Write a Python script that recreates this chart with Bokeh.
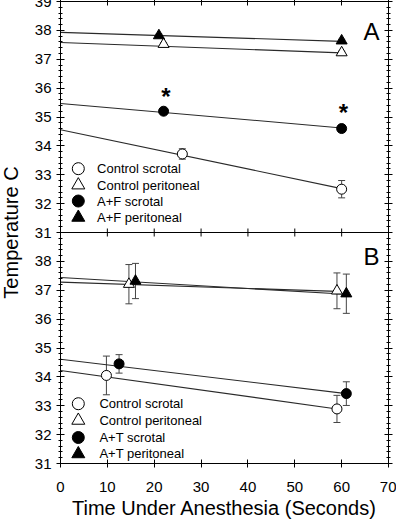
from bokeh.plotting import figure
from bokeh.models import (Range1d, LinearAxis, FixedTicker, Span, Title,
                          Whisker, TeeHead, ColumnDataSource, Label)
from bokeh.core.properties import value
from bokeh.embed import file_html
from bokeh.resources import INLINE

FONT = "Liberation Sans"

# ---------------- data ----------------
x_ticks = [0, 10, 20, 30, 40, 50, 60, 70]
temp_ticks = [31, 32, 33, 34, 35, 36, 37, 38, 39]
x_title = "Time Under Anesthesia (Seconds)"
y_title = "Temperature C"

# Panel A : Control vs A+F
a_labels = ["Control scrotal", "Control peritoneal", "A+F scrotal", "A+F peritoneal"]
a_ctrl_scr_x = [26, 60]
a_ctrl_scr_y = [33.72, 32.50]
a_ctrl_scr_err = [0.18, 0.30]
a_ctrl_per_x = [22, 60]
a_ctrl_per_y = [37.52, 37.23]
a_ctrl_per_err = [0.05, 0.05]
a_af_scr_x = [22, 60]
a_af_scr_y = [35.20, 34.60]
a_af_scr_err = [0.10, 0.12]
a_af_per_x = [21, 60]
a_af_per_y = [37.82, 37.64]
a_af_per_err = [0.05, 0.05]
# fitted lines (start, end)
a_ctrl_scr_fit_x = [0, 60]
a_ctrl_scr_fit_y = [34.56, 32.52]
a_ctrl_per_fit_x = [0, 60]
a_ctrl_per_fit_y = [37.58, 37.22]
a_af_scr_fit_x = [0, 60]
a_af_scr_fit_y = [35.47, 34.62]
a_af_per_fit_x = [0, 60]
a_af_per_fit_y = [37.93, 37.62]
a_star_x = [22.5, 60.4]
a_star_y = [35.82, 35.25]

# Panel B : Control vs A+T
b_labels = ["Control scrotal", "Control peritoneal", "A+T scrotal", "A+T peritoneal"]
b_ctrl_scr_x = [9.8, 59]
b_ctrl_scr_y = [34.05, 32.89]
b_ctrl_scr_err = [0.67, 0.47]
b_ctrl_per_x = [14.6, 59]
b_ctrl_per_y = [37.21, 36.98]
b_ctrl_per_err = [0.68, 0.62]
b_at_scr_x = [12.5, 61]
b_at_scr_y = [34.45, 33.42]
b_at_scr_err = [0.32, 0.41]
b_at_per_x = [16, 61]
b_at_per_y = [37.32, 36.88]
b_at_per_err = [0.61, 0.68]
b_ctrl_scr_fit_x = [0, 59]
b_ctrl_scr_fit_y = [34.22, 32.89]
b_ctrl_per_fit_x = [0, 59]
b_ctrl_per_fit_y = [37.28, 36.96]
b_at_scr_fit_x = [0, 61]
b_at_scr_fit_y = [34.61, 33.42]
b_at_per_fit_x = [0, 61]
b_at_per_fit_y = [37.44, 36.86]

# ---------------- layout constants ----------------
# panel A sits on top of panel B: its temperature scale is shifted by 8 degrees
PANEL_SHIFT = 8
LEG_MARKER_X = 3.8
LEG_TEXT_X_A = 7.8
LEG_TEXT_X_B = 8.3
LEG_ROWS_A = [33.21, 32.64, 32.09, 31.52]
LEG_ROWS_B = [33.07, 32.49, 31.90, 31.33]

LINE = "#2a2a2a"
ERR = "#444444"

p = figure(width=400, height=526, x_range=Range1d(x_ticks[0], x_ticks[-1]),
           y_range=Range1d(temp_ticks[0], temp_ticks[-1] + PANEL_SHIFT),
           output_backend="svg", toolbar_location=None,
           x_axis_location=None, y_axis_location=None,
           min_border_left=62, min_border_right=8, min_border_top=5, min_border_bottom=59,
           styles={"margin": "-4px"})
p.extra_y_ranges = {"A": Range1d(temp_ticks[0] - PANEL_SHIFT, temp_ticks[-1])}
p.outline_line_color = None
p.xgrid.visible = False
p.ygrid.visible = False
p.background_fill_color = "white"
p.border_fill_color = "white"

# ---- axes ----
y_pos = [t for t in temp_ticks[:-1]] + [t + PANEL_SHIFT for t in temp_ticks]
overrides = {t + PANEL_SHIFT: str(t) for t in temp_ticks}
minor = [temp_ticks[0] + 0.2 * i for i in range(int((temp_ticks[-1] + PANEL_SHIFT - temp_ticks[0]) / 0.2) + 1)]


def style_axis(ax, labels=True):
    ax.axis_line_color = "black"
    ax.major_tick_line_color = "black"
    ax.minor_tick_line_color = "black"
    ax.major_tick_in = 4
    ax.major_tick_out = 4
    ax.minor_tick_in = 2
    ax.minor_tick_out = 2
    ax.major_label_text_font = FONT
    ax.major_label_text_font_size = "15px"
    ax.major_label_text_color = "black" if labels else None
    ax.axis_label_text_font = FONT
    ax.axis_label_text_font_size = "20px"
    ax.axis_label_text_font_style = "normal"
    ax.axis_label_text_color = "black"


yl = LinearAxis(ticker=FixedTicker(ticks=y_pos, minor_ticks=minor),
                major_label_overrides=overrides, axis_label=y_title)
style_axis(yl)
yl.major_label_standoff = 5
yl.axis_label_standoff = 10
p.add_layout(yl, "left")

yr = LinearAxis(ticker=FixedTicker(ticks=y_pos, minor_ticks=minor))
style_axis(yr, labels=False)
yr.major_label_standoff = 0
p.add_layout(yr, "right")

xb = LinearAxis(ticker=FixedTicker(ticks=x_ticks, minor_ticks=[]))
style_axis(xb)
xb.major_label_standoff = 14
p.add_layout(xb, "below")

xt = LinearAxis(ticker=FixedTicker(ticks=x_ticks, minor_ticks=[]))
style_axis(xt, labels=False)
xt.major_tick_out = 3
xt.major_label_standoff = 0
p.add_layout(xt, "above")

# x-axis title, in the panel below the axis
p.add_layout(Title(text=x_title, align="center", text_font=FONT, text_font_size="20px",
                   text_font_style="normal", text_color="black", standoff=0, offset=0),
             "below")

# panel boundary with its ticks
p.add_layout(Span(location=temp_ticks[-1], dimension="width", line_color="black", line_width=1))
p.scatter(x=x_ticks[1:-1], y=[temp_ticks[-1]] * (len(x_ticks) - 2), marker="dash",
          angle=1.5707963, size=8, line_color="black", line_width=1)


def series(fit_x, fit_y, xs, ys, errs, rng):
    kw = {} if rng is None else {"y_range_name": rng}
    p.line(fit_x, fit_y, line_color=LINE, line_width=1.1, **kw)
    src = ColumnDataSource(dict(x=xs, lo=[y - e for y, e in zip(ys, errs)],
                                hi=[y + e for y, e in zip(ys, errs)]))
    p.add_layout(Whisker(source=src, base="x", lower="lo", upper="hi", dimension="height",
                         line_color=ERR, line_width=1,
                         lower_head=TeeHead(size=7, line_color=ERR, line_width=1),
                         upper_head=TeeHead(size=7, line_color=ERR, line_width=1), **kw))


STYLES = [("circle", False, 10), ("triangle", False, 11), ("circle", True, 10), ("triangle", True, 11)]

a_series = [
    (a_ctrl_scr_fit_x, a_ctrl_scr_fit_y, a_ctrl_scr_x, a_ctrl_scr_y, a_ctrl_scr_err),
    (a_ctrl_per_fit_x, a_ctrl_per_fit_y, a_ctrl_per_x, a_ctrl_per_y, a_ctrl_per_err),
    (a_af_scr_fit_x, a_af_scr_fit_y, a_af_scr_x, a_af_scr_y, a_af_scr_err),
    (a_af_per_fit_x, a_af_per_fit_y, a_af_per_x, a_af_per_y, a_af_per_err),
]
b_series = [
    (b_ctrl_scr_fit_x, b_ctrl_scr_fit_y, b_ctrl_scr_x, b_ctrl_scr_y, b_ctrl_scr_err),
    (b_ctrl_per_fit_x, b_ctrl_per_fit_y, b_ctrl_per_x, b_ctrl_per_y, b_ctrl_per_err),
    (b_at_scr_fit_x, b_at_scr_fit_y, b_at_scr_x, b_at_scr_y, b_at_scr_err),
    (b_at_per_fit_x, b_at_per_fit_y, b_at_per_x, b_at_per_y, b_at_per_err),
]

for rng, group, labels, rows, tx in (("A", a_series, a_labels, LEG_ROWS_A, LEG_TEXT_X_A),
                                     (None, b_series, b_labels, LEG_ROWS_B, LEG_TEXT_X_B)):
    kw = {} if rng is None else {"y_range_name": rng}
    for fx, fy, xs, ys, es in group:
        series(fx, fy, xs, ys, es, rng)
    for (fx, fy, xs, ys, es), (mk, filled, sz), lab, row in zip(group, STYLES, labels, rows):
        fill = "black" if filled else "white"
        p.scatter(xs, ys, marker=mk, size=sz, line_color="black", line_width=1,
                  fill_color=fill, **kw)
        # legend entry
        p.scatter([LEG_MARKER_X], [row], marker=mk, size=sz + 2, line_color="black",
                  line_width=1, fill_color=fill, **kw)
        p.text(x=[tx], y=[row], text=[lab], text_font=value(FONT), text_font_size="13px",
               text_align="left", text_baseline="middle", text_color="black", **kw)

p.text(x=a_star_x, y=a_star_y, text=["*"] * len(a_star_x), y_range_name="A",
       text_font=value(FONT), text_font_size="24px", text_font_style="bold",
       text_align="center", text_baseline="alphabetic", y_offset=3, text_color="black")

p.add_layout(Label(x=68.1, y=37.96, y_range_name="A", text="A", text_align="right",
                   text_baseline="alphabetic", text_font=FONT, text_font_size="24px",
                   text_color="black"))
p.add_layout(Label(x=68.1, y=38.17, text="B", text_align="right",
                   text_baseline="alphabetic", text_font=FONT, text_font_size="24px",
                   text_color="black"))

open("out.html", "w").write(file_html(p, INLINE))
